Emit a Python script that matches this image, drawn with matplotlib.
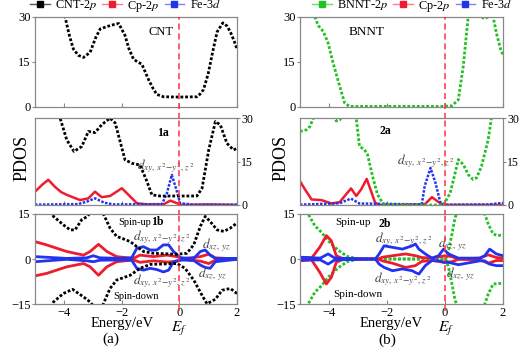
import matplotlib.pyplot as plt
from matplotlib.lines import Line2D

plt.rcParams['font.family'] = ['Liberation Serif', 'DejaVu Serif']
plt.rcParams['mathtext.fontset'] = 'stix'

# ---- panel (a): CNT ----
cnt_top_e = [-4.0, -3.96, -3.8, -3.67, -3.5, -3.32, -3.09, -2.9, -2.74, -2.5, -2.28, -2.1, -1.88, -1.75,
             -1.59, -1.45, -1.3, -1.07, -0.9, -0.78, -0.55, 0.0, 0.61, 0.72, 0.84, 1.0, 1.15, 1.31, 1.51,
             1.65, 1.77, 1.9, 2.0]
cnt_top = [32, 30, 23.5, 19.3, 17.2, 16.5, 18.2, 23, 26, 26.8, 27.4, 27.8, 23.8, 19.5,
           16, 15, 14.3, 9.2, 6.0, 4.2, 3.4, 3.3, 3.4, 4.3, 5.8, 11, 18, 25, 28,
           27, 25, 22, 19.3]

cnt_1a_e = [-4.2, -4.13, -3.9, -3.65, -3.38, -3.15, -2.92, -2.69, -2.4, -2.22, -2.05, -1.88, -1.64, -1.36,
            -1.12, -0.95, -0.66, 0.0, 0.61, 0.79, 1.02, 1.25, 1.42, 1.65, 1.88, 2.0]
cnt_1a = [33, 30, 22.5, 18.5, 20.2, 25.4, 25, 27.7, 30, 28.3, 21.9, 15.6, 14.4, 13.8,
          8.1, 3.5, 3.1, 3.1, 3.1, 5.8, 19, 28.8, 27.7, 21.3, 19, 19.6]
cp_1a_e = [-5, -4.75, -4.54, -4.31, -4.1, -3.9, -3.44, -3.15, -2.92, -2.69, -2.4, -1.99, -1.76, -1.47,
           -1.12, -0.55, -0.31, -0.08, 0.09, 1.0, 2.0]
cp_1a = [4.6, 7.0, 8.7, 6.3, 4.5, 3.5, 1.7, 2.3, 4.6, 2.7, 3.1, 5.8, 3.5, 0.6,
         0.2, 0.2, 1.5, 0.6, 0.0, 0.2, 0.0]
fe_1a_e = [-5, -3.5, -3.2, -2.92, -2.6, -2.3, -0.6, -0.43, -0.26, -0.08, 0.03, 0.5, 2.0]
fe_1a = [0.1, 0.3, 1.2, 2.3, 0.8, 0.2, 0.3, 4.0, 10.4, 4.6, 0.6, 0.1, 0.1]

cnt_up_e = [-4.45, -4.36, -4.02, -3.78, -3.61, -3.38, -3.18, -3.05, -2.7, -2.63, -2.4, -2.17, -1.99, -1.7,
            -1.47, -1.24, -0.89, -0.08, 0.26, 0.5, 0.73, 0.9, 1.07, 1.31, 1.54, 1.77, 2.0]
cnt_up = [16, 14.2, 11.4, 9.7, 9.7, 13.1, 14.2, 16, 16, 15, 10.3, 7.5, 6.9, 5.8,
          4.1, 2.5, 1.9, 1.6, 1.9, 4.7, 10.9, 14.2, 12.5, 9.7, 9.2, 10.3, 12]
cnt_dn_e = [-4.45, -4.36, -4.02, -3.7, -3.32, -3.09, -2.95, -2.7, -2.63, -2.4, -2.17, -1.7, -1.36, -1.01,
            -0.08, 0.2, 0.5, 0.79, 0.96, 1.25, 1.48, 1.77, 2.0]
cnt_dn = [-16, -14.3, -11.5, -10.1, -12.6, -14.3, -16, -16, -14.9, -9.8, -7, -5.4, -3.1, -1.8,
          -1.5, -3.1, -7, -12.1, -14.9, -13.4, -10.4, -9.8, -11.5]
cp_1b_e = [-5, -4.6, -3.9, -3.32, -3.09, -2.8, -2.51, -2.17, -1.59, -1.36, -0.89, -0.43, -0.08, 0.15,
           0.73, 1.02, 1.25, 2.0]
cp_1b_up = [5.8, 4.7, 2.5, 1.3, 2.5, 4.9, 2.5, 0.8, 0.2, 1.3, 0.8, 1.3, 0.8, 0.1, 0.8, 1.6, 0.4, 0.0]
cp_1b_dn = [-5.6, -4.8, -2.6, -1.5, -2.6, -5.4, -2.6, -0.9, -0.3, -1.1, -0.6, -1.0, -0.8, -0.1,
            -0.7, -1.5, -0.4, 0.0]
fe_1b_e = [-5, -3.9, -3.2, -2.98, -2.75, -2.0, -1.65, -1.47, -1.24, -1.01, -0.78, -0.55, -0.37, -0.2,
           0.03, 0.5, 0.73, 0.9, 1.07, 1.25, 2.0]
fe_1b_up = [0.8, 0.2, 0.4, 1.1, 0.4, 0.2, 0.4, 3.6, 4.1, 3.0, 3.0, 4.7, 4.7, 2.5,
            0.4, 0.2, 2.5, 3.0, 1.3, 0.2, 0.2]
fe_1b_dn = [-0.9, -0.1, -0.6, -0.9, -0.4, -0.3, -0.4, -3.1, -3.7, -3.1, -3.5, -4.3, -3.7, -0.9,
            -0.3, -0.5, -2.0, -2.8, -3.1, -0.9, -0.1]

# ---- panel (b): BNNT ----
bnnt_top_e = [-4.6, -4.49, -4.37, -4.2, -4.03, -3.86, -3.63, -3.46, -3.29, -0.05, 0.24, 0.46, 0.63, 0.8,
              0.9, 1.2, 1.26, 1.37, 1.48, 1.6, 1.66, 1.77, 1.92, 2.0]
bnnt_top = [33, 30, 27.1, 25.2, 21.3, 14.7, 6.9, 1.3, 0.2, 0.2, 0.4, 2.4, 13.6, 30,
            33, 31, 30, 29.3, 30, 32, 30, 24.7, 19.1, 17.4]

bnnt_2a_e = [-5, -4.77, -4.66, -4.54, -4.3, -3.9, -3.75, -3.63, -3.45, -3.06, -2.95, -2.78, -2.67, -2.5,
             -2.33, -2.16, -2.04, -0.05, 0.18, 0.35, 0.46, 0.63, 0.8, 0.97, 1.09, 1.26, 1.49, 1.6, 1.7]
bnnt_2a = [25.4, 26, 27.1, 30, 33, 32, 29, 29.4, 32, 30, 20.3, 19.1, 17.4, 10,
           3.7, 0.8, 0, 0, 4.2, 11.1, 15.7, 14, 10.5, 8.8, 9.4, 13.4, 22.6, 30, 33]
cp_2a_e = [-5, -4.83, -4.6, -4.26, -3.92, -3.63, -3.41, -3.24, -3.06, -2.89, -2.7, -2.55, -2.41, -2.27,
           -0.7, -0.45, -0.22, -0.05, 2.0]
cp_2a = [8.2, 5.4, 1.9, 1.7, 0.5, 1.0, 3.7, 5.7, 3.1, 5.4, 9.0, 4.8, 0.8, 0,
         0.2, 2.7, 1.0, 0, 0]
fe_2a_e = [-5, -3.63, -3.4, -3.24, -2.95, -0.8, -0.7, -0.5, -0.33, -0.16, 0.0, 1.5, 2.0]
fe_2a = [0.1, 0.6, 1.6, 2.2, 0.5, 0.2, 6.5, 12.8, 7.7, 0.8, 0.1, 0.2, 0.7]

bnnt_2b_e = [-4.8, -4.72, -4.49, -4.26, -4.03, -3.8, -3.58, -3.35, -2.95, -0.05, 0.05, 0.12, 0.24, 0.35,
             0.41, 0.6, 1.1, 1.37, 1.49, 1.66, 1.83, 2.0]
bnnt_2b_up = [16, 15, 11.1, 8.9, 6.1, 3.9, 2.2, 0.8, 0.0, 0.0, 0.5, 2.8, 8.3, 13.9,
              15, 22, 22, 15, 11.7, 8.3, 7.8, 8.1]
bnnt_2b_dn = [-16, -15, -11.1, -8.9, -6.1, -3.9, -2.2, -0.8, 0.0, 0.0, -0.5, -2.8, -8.3, -13.9,
              -15, -22, -22, -15, -11.7, -8.3, -8.2, -8.0]
cp_2b_e = [-5, -4.6, -4.32, -4.09, -3.92, -3.75, -3.5, -2.3, -2.16, -1.81, -1.36, -1.02, -0.8, -0.45,
           0.0, 0.24, 0.46, 1.2, 1.49, 1.77, 2.0]
cp_2b_up = [0.6, 0.3, 3.9, 7.8, 6.1, 1.1, 0.0, 0.0, 0.6, 1.1, 1.7, 1.1, 0.5, 0.3,
            1.1, 0.8, 0.0, 0.3, 1.4, 0.5, 0.3]
cp_2b_dn = [-0.6, -0.3, -4.4, -8.3, -6.1, -1.1, 0, 0, -0.6, -1.4, -2.8, -2.2, -0.8, -0.5,
            -1.1, -0.9, -0.1, -0.3, -1.4, -0.5, -0.5]
fe_2b_e = [-5, -4.3, -4.03, -3.8, -2.4, -2.27, -2.1, -1.81, -1.47, -1.13, -1.02, -0.9, -0.68, -0.45,
           -0.22, -0.05, 0.12, 0.46, 1.2, 1.37, 1.54, 1.77, 2.0]
fe_2b_up = [0.6, 0.3, 1.7, 0.3, 0.0, 1.7, 4.4, 3.9, 3.3, 4.4, 5.0, 3.3, 1.7, 0.3,
            1.1, 3.3, 1.7, 0.3, 0.3, 1.1, 3.3, 1.7, 1.1]
fe_2b_dn = [-0.3, -0.3, -1.7, -0.3, 0.0, -1.7, -2.8, -3.9, -3.3, -3.9, -4.5, -5.0, -2.2, -0.5,
            -0.6, -1.1, -1.1, -1.9, -0.6, -0.6, -1.7, -2.2, -2.2]

BLACK, RED, BLUE, GREEN = 'black', '#ee1c2c', '#2233ee', '#22c022'
dots = dict(ls=(0, (1, 0.7)), lw=2.0, dash_capstyle='butt')
dlabel = r'$d_{xy,\,x^2\!-\!y^2,\,z^2}$'
dxz = r'$d_{xz,\,yz}$'
GREY = '#444444'

fig = plt.figure(figsize=(5.2, 3.59), dpi=100)

def make_axes(x0, w, bottom, h, yticks, yright=False, xlabels=False):
    ax = fig.add_axes([x0, bottom, w, h])
    ax.set_xlim(-5, 2)
    ax.set_ylim(yticks[0], yticks[-1])
    ax.set_xticks([-4, -2, 0, 2])
    ax.set_yticks(yticks)
    if not xlabels:
        ax.set_xticklabels([])
    if yright:
        ax.yaxis.tick_right()
    ax.tick_params(axis='x', direction='in', length=3, color='#888888', labelsize=9, pad=2)
    ax.tick_params(axis='y', direction='out', length=2, color='#888888',
                   labelsize=8.5 if yright else 9, pad=1)
    for s in ax.spines.values():
        s.set_color('#888888')
        s.set_linewidth(0.9)
    ext = -0.13 if not xlabels else -0.08
    ax.axvline(0, ymin=ext, ymax=1, color='#ff3344', ls=(0, (4, 2.5)), lw=1.1,
               clip_on=False, zorder=5)
    return ax

panels = {}
for side, x0, w in [('a', 35 / 520, 202 / 520), ('b', 300 / 520, 203 / 520)]:
    top = make_axes(x0, w, 0.702, 0.251, [0, 15, 30])
    mid = make_axes(x0, w, 0.429, 0.242, [0, 15, 30], yright=True)
    bot = make_axes(x0, w, 0.153, 0.251, [-15, 0, 15], xlabels=True)
    panels[side] = (top, mid, bot)

# (a) CNT
top, mid, bot = panels['a']
top.plot(cnt_top_e, cnt_top, color=BLACK, **dots)
top.text(-0.65, 25, 'CNT', fontsize=9, ha='center', va='center')

mid.plot(cp_1a_e, cp_1a, color=RED, lw=1.8)
mid.plot(fe_1a_e, fe_1a, color=BLUE, lw=1.8, ls=(0, (1, 0.6)))
mid.plot(cnt_1a_e, cnt_1a, color=BLACK, **dots)
mid.text(-0.58, 25, '1a', fontsize=8.5, fontweight='bold', ha='center', va='center')
mid.text(-1.45, 13.3, dlabel, fontsize=9.5, color=GREY, va='center')

for y in (cp_1b_up, cp_1b_dn):
    bot.plot(cp_1b_e, y, color=RED, lw=2)
for y in (fe_1b_up, fe_1b_dn):
    bot.plot(fe_1b_e, y, color=BLUE, lw=2)
bot.plot(cnt_up_e, cnt_up, color=BLACK, **dots)
bot.plot(cnt_dn_e, cnt_dn, color=BLACK, **dots)
bot.text(-2.12, 12.2, 'Spin-up', fontsize=7.5, ha='left', va='center')
bot.text(-0.75, 12.2, '1b', fontsize=8.5, fontweight='bold', ha='center', va='center')
bot.text(-1.62, 7.3, dlabel, fontsize=9.5, color=GREY, va='center')
bot.text(0.78, 4.7, dxz, fontsize=9.5, color=GREY, va='center')
bot.text(0.66, -4.9, dxz, fontsize=9.5, color=GREY, va='center')
bot.text(-1.62, -7.4, dlabel, fontsize=9.5, color=GREY, va='center')
bot.text(-2.3, -12.6, 'Spin-down', fontsize=7.5, ha='left', va='center')

# (b) BNNT
top, mid, bot = panels['b']
top.plot(bnnt_top_e, bnnt_top, color=GREEN, **dots)
top.text(-2.7, 25, 'BNNT', fontsize=9.5, ha='center', va='center')

mid.plot(cp_2a_e, cp_2a, color=RED, lw=1.8)
mid.plot(fe_2a_e, fe_2a, color=BLUE, lw=1.8, ls=(0, (1, 0.6)))
mid.plot(bnnt_2a_e, bnnt_2a, color=GREEN, **dots)
mid.text(-2.05, 25.5, '2a', fontsize=8.5, fontweight='bold', ha='center', va='center')
mid.text(-1.66, 15.3, dlabel, fontsize=9.5, color=GREY, va='center')

bot.plot(bnnt_2b_e, bnnt_2b_up, color=GREEN, **dots)
bot.plot(bnnt_2b_e, bnnt_2b_dn, color=GREEN, **dots)
for y in (cp_2b_up, cp_2b_dn):
    bot.plot(cp_2b_e, y, color=RED, lw=2)
for y in (fe_2b_up, fe_2b_dn):
    bot.plot(fe_2b_e, y, color=BLUE, lw=2)
bot.text(-3.78, 12.0, 'Spin-up', fontsize=8, ha='left', va='center')
bot.text(-2.07, 11.8, '2b', fontsize=8.5, fontweight='bold', ha='center', va='center')
bot.text(-2.42, 6.6, dlabel, fontsize=9.5, color=GREY, va='center')
bot.text(-0.24, 5.0, dxz, fontsize=9.5, color=GREY, va='center')
bot.text(0.05, -5.0, dxz, fontsize=9.5, color=GREY, va='center')
bot.text(-2.45, -6.7, dlabel, fontsize=9.5, color=GREY, va='center')
bot.text(-3.85, -11.7, 'Spin-down', fontsize=8, ha='left', va='center')

# axis labels and panel letters
for xc in (22 / 520, 281 / 520):
    fig.text(xc, 1 - 158 / 359, 'PDOS', fontsize=13, rotation=90, ha='center', va='center')
fig.text(122 / 520, 1 - 324 / 359, 'Energy/eV', fontsize=10.5, ha='center', va='center')
fig.text(391 / 520, 1 - 324 / 359, 'Energy/eV', fontsize=10.5, ha='center', va='center')
fig.text(179 / 520, 1 - 329 / 359, r'$E_f$', fontsize=11, ha='center', va='center')
fig.text(446 / 520, 1 - 329 / 359, r'$E_f$', fontsize=11, ha='center', va='center')
fig.text(111 / 520, 1 - 339 / 359, '(a)', fontsize=11, ha='center', va='center')
fig.text(387 / 520, 1 - 340 / 359, '(b)', fontsize=11, ha='center', va='center')

# legends
def handle(line_c, mark_c):
    return Line2D([], [], color=line_c, lw=1, marker='s', markersize=4.5,
                  markerfacecolor=mark_c, markeredgecolor=mark_c)

for x_left, name, lc, mc in [(30 / 520, 'CNT-2$p$', '#555555', BLACK),
                             (312 / 520, 'BNNT-2$p$', '#66dd66', GREEN)]:
    hs = [handle(lc, mc), handle('#ff7790', RED), handle('#7788ff', BLUE)]
    fig.legend(hs, [name, 'Cp-2$p$', 'Fe-3$d$'], loc='center left', ncol=3,
               bbox_to_anchor=(x_left, 1 - 6 / 359), frameon=False, fontsize=8.8,
               handlelength=1.6, handletextpad=0.45, columnspacing=0.4,
               borderaxespad=0, borderpad=0)

plt.savefig('out.png', dpi=100)
